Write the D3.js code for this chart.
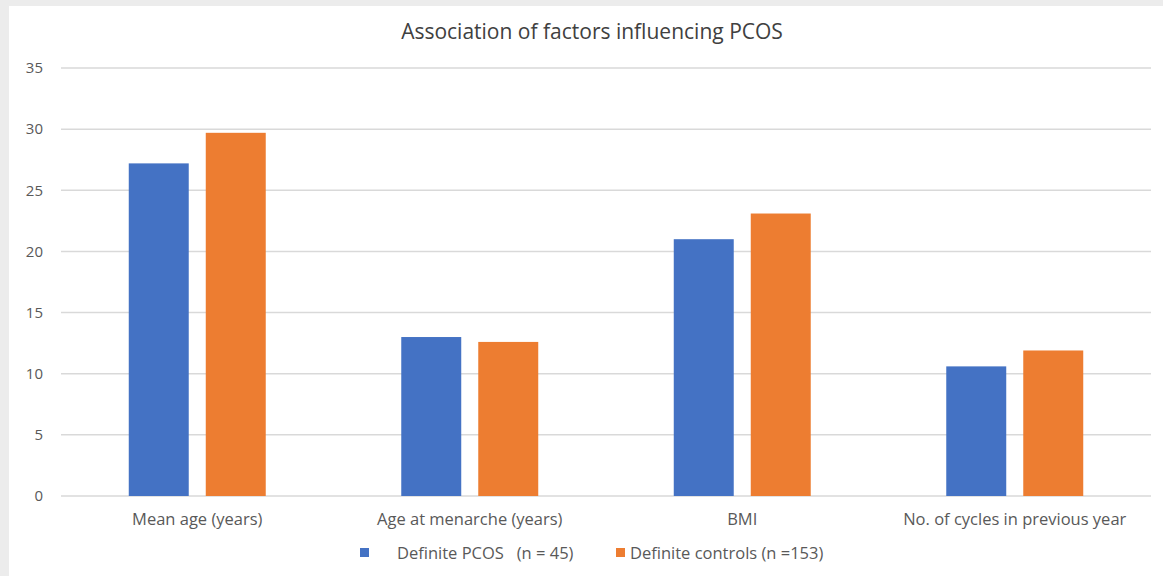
<html>
<script src="https://d3js.org/d3.v7.min.js"></script>
<style>
  body { margin: 0; background: #ececec; }
  text { font-family: "Open Sans", "Liberation Sans", sans-serif; }
</style>
<body>
<svg id="chart" width="1163" height="576"></svg>
<script>
const categories = ["Mean age (years)", "Age at menarche (years)", "BMI", "No. of cycles in previous year"];
const seriesNames = ["Definite PCOS\u00a0\u00a0\u00a0(n = 45)", "Definite controls (n =153)"];
const pcos = [27.2, 13.0, 21.0, 10.6];
const controls = [29.7, 12.6, 23.1, 11.9];
const yTicks = [0, 5, 10, 15, 20, 25, 30, 35];
const colors = ["#4472c4", "#ed7d31"];

const svg = d3.select("#chart");
svg.append("rect").attr("x", 9).attr("y", 6).attr("width", 1154).attr("height", 570).attr("fill", "#fff");

const plotLeft = 61, plotRight = 1151, plotTop = 68, plotBottom = 496;
const x0 = d3.scaleBand().domain(categories).range([plotLeft, plotRight]).paddingInner(0).paddingOuter(0);
const x1 = d3.scaleBand().domain([0, 1]).range([0, x0.bandwidth()]).paddingInner(0.221).paddingOuter(0.88);
const y = d3.scaleLinear().domain([0, 35]).range([plotBottom, plotTop]);

// gridlines
svg.append("g").selectAll("line").data(yTicks).enter().append("line")
  .attr("x1", plotLeft).attr("x2", plotRight)
  .attr("y1", d => y(d)).attr("y2", d => y(d))
  .attr("stroke", "#d9d9d9").attr("stroke-width", 1.5);

// y tick labels
svg.append("g").selectAll("text").data(yTicks).enter().append("text")
  .attr("x", 43).attr("y", d => y(d)).attr("dy", "0.35em")
  .attr("text-anchor", "end").attr("fill", "#595959").style("font-size", "15px")
  .text(d => d);

// bars
const rows = categories.map((c, i) => ({ c, v: [pcos[i], controls[i]] }));
const g = svg.append("g").selectAll("g").data(rows).enter().append("g")
  .attr("transform", d => "translate(" + x0(d.c) + ",0)");
g.selectAll("rect").data(d => d.v.map((v, k) => ({ v, k }))).enter().append("rect")
  .attr("x", d => x1(d.k)).attr("width", x1.bandwidth())
  .attr("y", d => y(d.v)).attr("height", d => plotBottom - y(d.v))
  .attr("fill", d => colors[d.k]);

// x labels
svg.append("g").selectAll("text").data(categories).enter().append("text")
  .attr("x", d => x0(d) + x0.bandwidth() / 2).attr("y", 519).attr("dy", "0.35em")
  .attr("text-anchor", "middle").attr("fill", "#595959").style("font-size", "16.5px")
  .text(d => d);

// title
svg.append("text").attr("x", 592).attr("y", 32).attr("dy", "0.35em")
  .attr("text-anchor", "middle").attr("fill", "#404040").style("font-size", "21px")
  .text("Association of factors influencing PCOS");

// legend
const legendX = [360, 616], legendText = [397, 630];
seriesNames.forEach((s, i) => {
  svg.append("rect").attr("x", legendX[i]).attr("y", 548).attr("width", 9).attr("height", 9).attr("fill", colors[i]);
  svg.append("text").attr("x", legendText[i]).attr("y", 553).attr("dy", "0.35em")
    .attr("fill", "#595959").style("font-size", "16.5px").text(s);
});
</script>
</body>
</html>
